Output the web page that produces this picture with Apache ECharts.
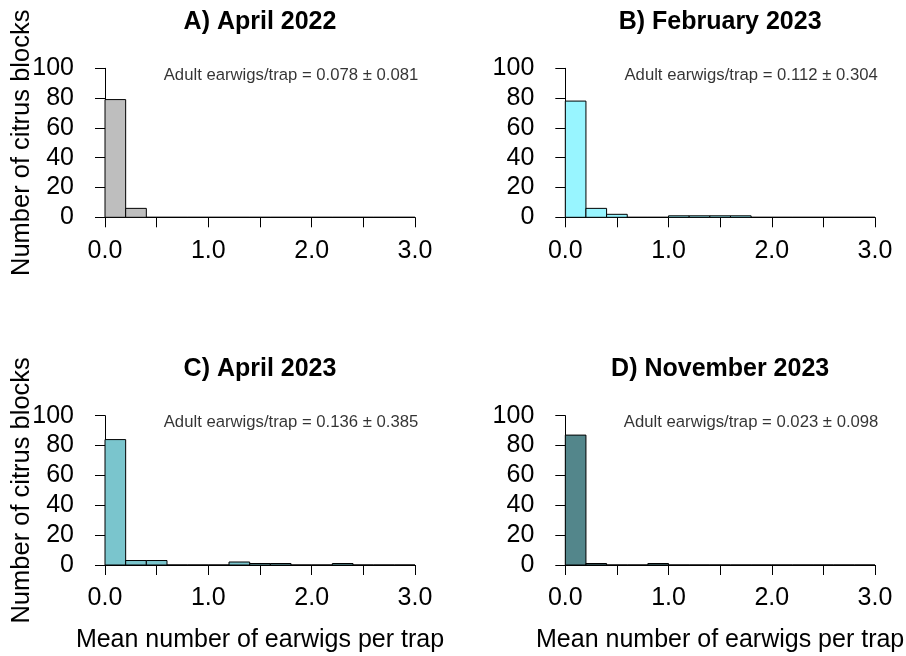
<!DOCTYPE html>
<html>
<head>
<meta charset="utf-8">
<script src="https://cdn.jsdelivr.net/npm/echarts@6/dist/echarts.min.js"></script>
<style>html,body{margin:0;padding:0;background:#fff}#c{width:906px;height:656px}</style>
</head>
<body>
<div id="c"></div>
<script>
// ---- data ----
const breaks = [0, 0.2, 0.4, 0.6, 0.8, 1.0, 1.2, 1.4, 1.6, 1.8, 2.0, 2.2, 2.4, 2.6, 2.8, 3.0];
const titles = ['A) April 2022', 'B) February 2023', 'C) April 2023', 'D) November 2023'];
const countsA = [79, 6, 0, 0, 0, 0, 0, 0, 0, 0, 0, 0, 0, 0, 0];
const countsB = [78, 6, 2, 0, 0, 1, 1, 1, 1, 0, 0, 0, 0, 0, 0];
const countsC = [84, 3, 3, 0, 0, 0, 2, 1, 1, 0, 0, 1, 0, 0, 0];
const countsD = [87, 1, 0, 0, 1, 0, 0, 0, 0, 0, 0, 0, 0, 0, 0];
const annotations = ['Adult earwigs/trap = 0.078 \u00b1 0.081', 'Adult earwigs/trap = 0.112 \u00b1 0.304',
                     'Adult earwigs/trap = 0.136 \u00b1 0.385', 'Adult earwigs/trap = 0.023 \u00b1 0.098'];
const annotPos = [1.8, 95.5];
const xTicks = [0, 3, 0.5];   // min, max, interval
const yTicks = [0, 100, 20];
const yName = 'Number of citrus blocks';
const xName = 'Mean number of earwigs per trap';

const allCounts = [countsA, countsB, countsC, countsD];
const colors = ['#BEBEBE', '#98F5FF', '#7AC5CD', '#53868B'];
const FONT = "'Liberation Sans', Arial, Helvetica, sans-serif";

const grids = [
  {left: 105, width: 310, top: 68.3, height: 149},
  {left: 565.3, width: 309.7, top: 68.3, height: 149},
  {left: 105, width: 310, top: 415.7, height: 149.3},
  {left: 565.3, width: 309.7, top: 415.7, height: 149.3}
];

const xAxes = [], yAxes = [], series = [], graphics = [];
grids.forEach((g, i) => {
  const bottomRow = i >= 2, leftCol = i % 2 === 0;
  xAxes.push({
    type: 'value', gridIndex: i, min: xTicks[0], max: xTicks[1], interval: xTicks[2],
    offset: 6, splitLine: {show: false},
    axisLine: {show: true, lineStyle: {color: '#000', width: 1}},
    axisTick: {show: true, length: 10, lineStyle: {color: '#000', width: 1}},
    axisLabel: {fontSize: 25, fontFamily: FONT, color: '#000', margin: 15,
      formatter: v => (Math.abs(v - Math.round(v)) < 1e-9 ? v.toFixed(1) : '')},
    name: bottomRow ? xName : '', nameLocation: 'middle', nameGap: 57, nameMoveOverlap: false,
    nameTextStyle: {fontSize: 25, fontFamily: FONT, color: '#000'}
  });
  yAxes.push({
    type: 'value', gridIndex: i, min: yTicks[0], max: yTicks[1], interval: yTicks[2],
    offset: 13, splitLine: {show: false},
    axisLine: {show: true, lineStyle: {color: '#000', width: 1}},
    axisTick: {show: true, length: 10, lineStyle: {color: '#000', width: 1}},
    axisLabel: {fontSize: 25, fontFamily: FONT, color: '#000', margin: 18},
    name: leftCol ? yName : '', nameLocation: 'middle', nameGap: 57, nameMoveOverlap: false,
    nameTextStyle: {fontSize: 25.5, fontFamily: FONT, color: '#000'}
  });
  const data = allCounts[i].map((c, k) => [breaks[k], breaks[k + 1], c]);
  const col = colors[i];
  series.push({
    type: 'custom', xAxisIndex: i, yAxisIndex: i, data: data, silent: true,
    renderItem: (params, api) => {
      const p0 = api.coord([api.value(0), api.value(2)]);
      const p1 = api.coord([api.value(1), 0]);
      return {type: 'rect', shape: {x: p0[0], y: p0[1], width: p1[0] - p0[0], height: p1[1] - p0[1]},
              style: {fill: col, stroke: '#000', lineWidth: 1}};
    }
  });
  series.push({
    type: 'scatter', xAxisIndex: i, yAxisIndex: i, symbolSize: 0, silent: true,
    data: [annotPos],
    label: {show: true, position: 'inside', formatter: annotations[i], fontSize: 16.7, fontFamily: FONT, color: '#000'}
  });
  graphics.push({
    type: 'text', x: g.left + g.width / 2, y: bottomRow ? 369 : 22,
    style: {text: titles[i], font: 'bold 25px ' + FONT, fill: '#000', textAlign: 'center', textVerticalAlign: 'middle'}
  });
});

const chart = echarts.init(document.getElementById('c'), null, {renderer: 'canvas'});
chart.setOption({
  animation: false,
  backgroundColor: '#fff',
  grid: grids.map(g => Object.assign({containLabel: false, outerBoundsMode: 'none'}, g)),
  xAxis: xAxes, yAxis: yAxes, series: series, graphic: graphics
});
</script>
</body>
</html>
